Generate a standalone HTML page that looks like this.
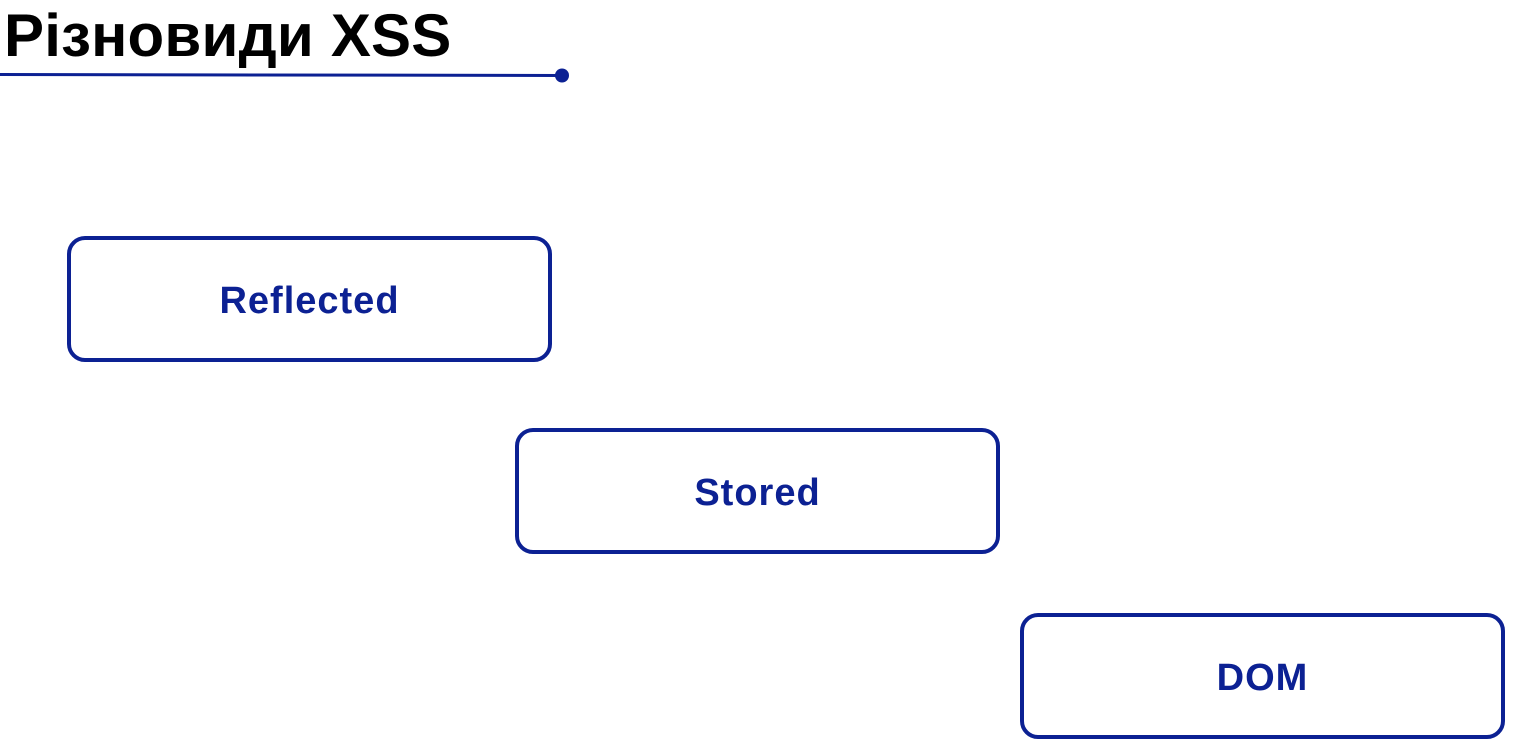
<!DOCTYPE html>
<html><head><meta charset="utf-8"><style>
body{margin:0;width:1515px;height:744px;background:#fff;position:relative;overflow:hidden;font-family:"Liberation Sans",sans-serif}
.t{position:absolute;left:4px;top:1px;font-size:60px;font-weight:bold;color:#000;line-height:70px;letter-spacing:0.2px}
.b{position:absolute;width:477px;height:118px;border:4px solid #0c2193;border-radius:18px;box-sizing:content-box;color:#0c2193;font-weight:bold;font-size:38px;letter-spacing:1px;display:flex;align-items:center;justify-content:center;padding-top:0}
.b span{position:relative;top:2px}
</style></head><body>
<div class="t">Різновиди XSS</div>
<svg width="1515" height="744" style="position:absolute;left:0;top:0">
<line x1="0" y1="74.5" x2="562" y2="75.5" stroke="#0c2193" stroke-width="3"/>
<circle cx="562" cy="75.5" r="7" fill="#0c2193"/>
</svg>
<div class="b" style="left:67px;top:236px"><span>Reflected</span></div>
<div class="b" style="left:515px;top:428px"><span>Stored</span></div>
<div class="b" style="left:1020px;top:613px"><span>DOM</span></div>
</body></html>
